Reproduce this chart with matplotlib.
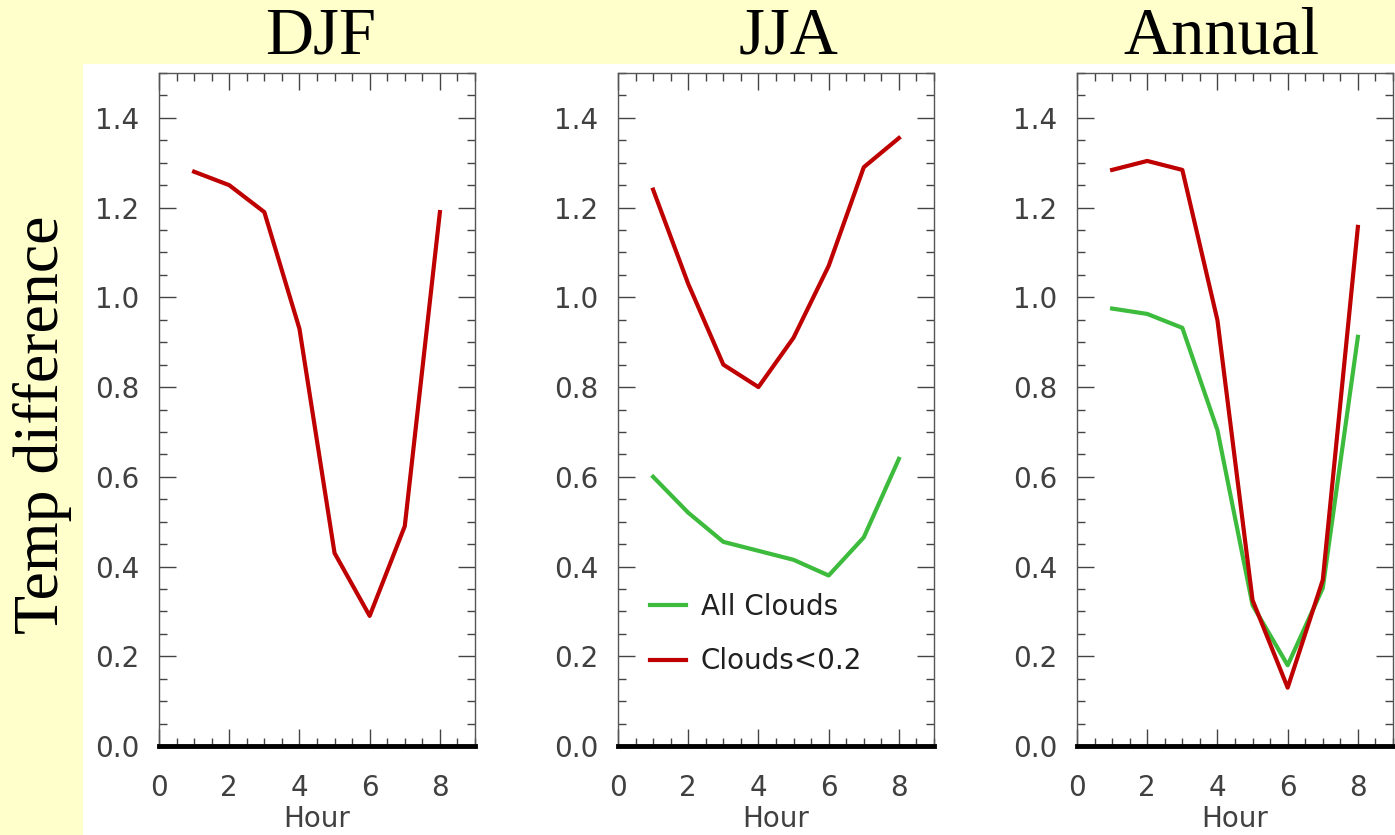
import numpy as np
import matplotlib.pyplot as plt
from matplotlib.patches import Rectangle
from matplotlib.ticker import MultipleLocator, FormatStrFormatter

# data
hours = [1, 2, 3, 4, 5, 6, 7, 8]
panels = ['DJF', 'JJA', 'Annual']

djf_low = [1.28, 1.25, 1.19, 0.93, 0.43, 0.29, 0.49, 1.19]

jja_all = [0.60, 0.52, 0.455, 0.435, 0.415, 0.38, 0.465, 0.64]
jja_low = [1.24, 1.03, 0.85, 0.80, 0.91, 1.07, 1.29, 1.355]

ann_all = [0.975, 0.963, 0.932, 0.704, 0.314, 0.18, 0.352, 0.912]
ann_low = [1.284, 1.304, 1.284, 0.949, 0.325, 0.13, 0.370, 1.157]

green = '#3cbb3c'
red = '#bf0000'
tickfont = 'DejaVu Sans'
txtcol = '#404040'

W, H = 1395, 835
fig = plt.figure(figsize=(W/100, H/100), dpi=100)
fig.patch.set_facecolor('#ffffcc')
fig.patches.append(Rectangle((83/W, 0), 1, (H-64)/H, transform=fig.transFigure,
                             facecolor='white', edgecolor='none', zorder=-5))

lefts = [159, 618, 1077]
title_x = [321, 788, 1221]
axes = []
for i, name in enumerate(panels):
    ax = fig.add_axes([lefts[i]/W, 89/H, 316/W, 673/H])
    ax.set_zorder(2)
    ax.patch.set_alpha(0)
    ax.set_xlim(0, 9)
    ax.set_ylim(0, 1.5)
    ax.xaxis.set_major_locator(MultipleLocator(2))
    ax.xaxis.set_minor_locator(MultipleLocator(0.5))
    ax.yaxis.set_major_locator(MultipleLocator(0.2))
    ax.yaxis.set_minor_locator(MultipleLocator(0.05))
    ax.yaxis.set_major_formatter(FormatStrFormatter('%.1f'))
    ax.tick_params(which='both', direction='in', top=True, right=True, color='#444444', width=1)
    ax.tick_params(which='major', length=12, labelsize=20, labelcolor=txtcol)
    ax.tick_params(which='minor', length=6)
    ax.tick_params(axis='y', pad=14)
    ax.tick_params(axis='x', pad=20)
    for s in ['left', 'top', 'right']:
        ax.spines[s].set_color('#555555')
        ax.spines[s].set_linewidth(1)
    ax.spines['bottom'].set_color('black')
    ax.spines['bottom'].set_linewidth(3.5)
    for lab in ax.get_xticklabels() + ax.get_yticklabels():
        lab.set_fontfamily(tickfont)
    ax.set_xlabel('Hour', fontsize=20, color=txtcol, family=tickfont, labelpad=2)
    fig.text(title_x[i]/W, 1 - 37/H, name, family='Liberation Serif', fontsize=48,
             ha='center', va='center')
    axes.append(ax)

axes[0].plot(hours, djf_low, color=red, lw=3)

axes[1].plot(hours, jja_all, color=green, lw=3, label='All Clouds')
axes[1].plot(hours, jja_low, color=red, lw=3, label='Clouds<0.2')
leg = axes[1].legend(loc='lower left', bbox_to_anchor=(0.1, 0.105), frameon=False,
                     handlelength=1.3, handletextpad=0.55, labelspacing=0.95,
                     borderpad=0, borderaxespad=0,
                     prop={'family': tickfont, 'size': 20})
for t in leg.get_texts():
    t.set_color('#202020')

axes[2].plot(hours, ann_all, color=green, lw=3)
axes[2].plot(hours, ann_low, color=red, lw=3)

fig.text(43/W, 1 - 425/H, 'Temp difference', family='Liberation Serif', fontsize=46,
         rotation=90, ha='center', va='center')

fig.savefig('out.png', dpi=100, facecolor=fig.get_facecolor())
